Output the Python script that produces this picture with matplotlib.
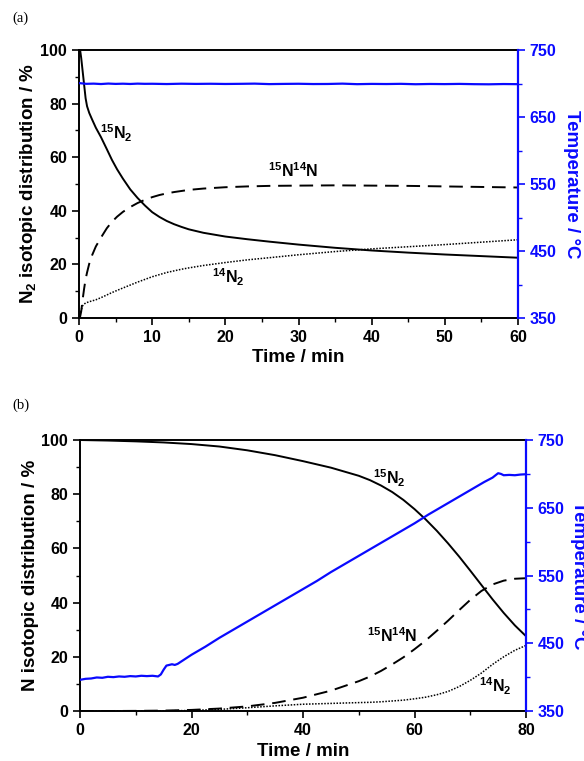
import matplotlib
matplotlib.use("Agg")
import matplotlib.pyplot as plt
from matplotlib.ticker import MultipleLocator

plt.rcParams['font.family'] = ['Liberation Sans', 'DejaVu Sans']
plt.rcParams['font.weight'] = 'bold'
plt.rcParams['mathtext.fontset'] = 'custom'
plt.rcParams['mathtext.rm'] = 'Liberation Sans:bold'
plt.rcParams['mathtext.bf'] = 'Liberation Sans:bold'
plt.rcParams['mathtext.it'] = 'Liberation Sans:bold'
plt.rcParams['mathtext.default'] = 'bf'

BLUE = '#0a0aff'

# ---- panel (a) data ----
a_t = [0, 0.15, 0.3, 0.5, 0.7, 0.9, 1.1, 1.4, 1.8, 2.3, 3.0, 3.8, 4.5, 5.2, 6, 7, 8, 9, 10,
       11, 12, 13, 14, 15, 17, 20, 23, 26, 30, 35, 40, 45, 50, 55, 60]
a_15n2 = [100, 100, 97, 92, 87, 82, 79, 76.5, 74, 71, 67.5, 63, 59, 55.5, 52, 48, 44.8, 42,
          39.5, 37.7, 36.2, 35, 34, 33.1, 31.8, 30.4, 29.4, 28.5, 27.4, 26.2, 25.2, 24.4,
          23.7, 23.1, 22.5]
a_15n14n = [0, 0.5, 2.5, 7, 11, 14.5, 17, 20.3, 23.5, 26.7, 30, 33.5, 35.9, 37.8, 39.6, 41.4,
            42.9, 44.1, 45.1, 45.9, 46.5, 47.0, 47.4, 47.8, 48.3, 48.8, 49.1, 49.3, 49.4,
            49.5, 49.4, 49.3, 49.1, 48.9, 48.7]
a_14n2 = [0, 1.2, 3.0, 4.6, 5.2, 5.6, 5.8, 6.1, 6.4, 6.8, 7.6, 8.6, 9.5, 10.3, 11.2, 12.3,
          13.4, 14.4, 15.4, 16.2, 17.0, 17.6, 18.2, 18.7, 19.6, 20.7, 21.7, 22.5, 23.6,
          24.8, 25.8, 26.6, 27.4, 28.3, 29.2]
a_temp_t = [0.1, 1, 2, 3, 4, 5, 6, 7, 8, 9, 10, 12, 14, 16, 18, 20, 22, 24, 26, 28, 30,
            32, 34, 36, 38, 40, 42, 44, 46, 48, 50, 52, 54, 56, 58, 60]
a_temp = [700.5, 699.5, 699.8, 699.2, 699.9, 699.4, 699.7, 699.3, 699.8, 699.5, 699.6, 699.2,
          699.7, 699.4, 699.6, 699.3, 699.5, 699.8, 699.1, 699.4, 699.6, 699.2, 699.3, 699.8,
          699.0, 699.4, 699.2, 699.5, 698.9, 699.3, 699.1, 699.4, 699.0, 698.8, 699.2, 699.0]

# ---- panel (b) data ----
b_t = [0, 5, 10, 15, 20, 25, 30, 35, 40, 45, 50, 52, 54, 56, 58, 60, 62, 64, 66, 68, 70,
       72, 74, 76, 78, 80]
b_15n2 = [100, 99.8, 99.5, 99.1, 98.5, 97.6, 96.2, 94.4, 92.2, 89.8, 86.8, 85.2, 83.2, 80.8,
          77.9, 74.5, 70.7, 66.5, 61.9, 57.0, 51.8, 46.5, 41.2, 36.2, 31.6, 27.6]
b_15n14n = [0, 0, 0.05, 0.15, 0.4, 0.9, 1.7, 3.0, 4.9, 7.5, 11, 12.7, 14.8, 17.2, 19.8,
            22.8, 26, 29.6, 33.3, 37.2, 41, 44.3, 46.7, 48.1, 48.8, 49]
b_14n2 = [0, 0, 0, 0.05, 0.2, 0.6, 1.2, 1.9, 2.5, 2.8, 3.1, 3.2, 3.4, 3.7, 4.0, 4.5, 5.1,
          6.0, 7.2, 9.0, 11.3, 14.0, 17.2, 20.0, 22.4, 24.2]
b_temp_t = [0, 1, 2, 3, 4, 5, 6, 7, 8, 9, 10, 11, 12, 13, 14, 14.5, 15, 15.5, 16, 16.5, 17,
            17.5, 20, 22.5, 25, 27.5, 30, 32.5, 35, 37.5, 40, 42.5, 45, 47.5, 50, 52.5, 55,
            57.5, 60, 62.5, 65, 67.5, 70, 72.5, 74, 75, 75.5, 76, 77, 78, 79, 80]
b_temp = [396, 397.5, 398, 399.5, 399, 400.5, 400, 401, 400.5, 401.5, 401, 402, 401.5, 402,
          401, 404, 411, 417, 418, 419, 418, 419.5, 433, 445, 458, 470, 482, 494, 506, 518,
          530, 542, 555, 567, 579, 591, 603, 615, 627, 640, 652, 664, 676, 688, 694.5, 701,
          700, 698, 698.5, 698, 699, 699.5]

temp_ticks = [350, 450, 550, 650, 750]


def style_axes(ax, ax2, xmax, xmajor, xminor):
    ax.set_xlim(0, xmax)
    ax.set_ylim(0, 100)
    ax.xaxis.set_major_locator(MultipleLocator(xmajor))
    ax.xaxis.set_minor_locator(MultipleLocator(xminor))
    ax.yaxis.set_major_locator(MultipleLocator(20))
    ax.yaxis.set_minor_locator(MultipleLocator(10))
    ax.tick_params(which='major', direction='out', length=5, width=1.2, labelsize=11.5)
    ax.tick_params(which='minor', direction='out', length=3, width=1.0)
    for s in ('left', 'bottom', 'top'):
        ax.spines[s].set_linewidth(1.4)
    ax.spines['right'].set_visible(False)

    ax2.set_ylim(350, 750)
    ax2.set_yticks(temp_ticks)
    ax2.yaxis.set_minor_locator(MultipleLocator(50))
    ax2.tick_params(which='major', direction='out', length=5, width=1.2,
                    labelsize=11.5, colors=BLUE)
    ax2.tick_params(which='minor', direction='out', length=3, width=1.0, colors=BLUE)
    ax2.spines['right'].set_color(BLUE)
    ax2.spines['right'].set_linewidth(1.6)
    for s in ('left', 'bottom', 'top'):
        ax2.spines[s].set_visible(False)
    for lab in ax.get_xticklabels() + ax.get_yticklabels() + ax2.get_yticklabels():
        lab.set_fontweight('bold')


fig = plt.figure(figsize=(5.84, 7.61), dpi=100)

# ---------------- (a) ----------------
ax = fig.add_axes((0.1353, 0.5821, 0.7517, 0.3522))
ax2 = ax.twinx()
ax.plot(a_t, a_15n2, color='black', lw=1.4, ls='-')
ax.plot(a_t, a_15n14n, color='black', lw=1.4, ls=(0, (7, 4)))
ax.plot(a_t, a_14n2, color='black', lw=1.1, ls=(0, (1, 1)))
ax2.plot(a_temp_t, a_temp, color=BLUE, lw=1.6)
style_axes(ax, ax2, 60, 10, 5)
ax.set_xlabel('Time / min', fontsize=13.5, fontweight='bold', va='center')
ax.xaxis.set_label_coords(0.5, -0.146)
ax.set_ylabel(r'N$_{2}$ isotopic distribution / %', fontsize=13.5,
              fontweight='bold', va='center')
ax.yaxis.set_label_coords(-0.114, 0.5)
ax2.set_ylabel('Temperature / °C', fontsize=13.5, fontweight='bold', color=BLUE,
               rotation=270, va='center')
ax2.yaxis.set_label_coords(1.122, 0.5)
ax.text(2.9, 69, r'$^{15}$N$_{2}$', fontsize=11.5, fontweight='bold',
        ha='left', va='center')
ax.text(29.2, 55, r'$^{15}$N$^{14}$N', fontsize=11.5, fontweight='bold',
        ha='center', va='center')
ax.text(20.4, 15.3, r'$^{14}$N$_{2}$', fontsize=11.5, fontweight='bold',
        ha='center', va='center')
fig.text(12 / 584, 1 - 18 / 761, '(a)', family='Liberation Serif', fontweight='normal',
         fontsize=10.5, ha='left', va='center')

# ---------------- (b) ----------------
bx = fig.add_axes((0.137, 0.0657, 0.7637, 0.3561))
bx2 = bx.twinx()
bx.plot(b_t, b_15n2, color='black', lw=1.4, ls='-')
bx.plot(b_t, b_15n14n, color='black', lw=1.4, ls=(0, (7, 4)))
bx.plot(b_t, b_14n2, color='black', lw=1.1, ls=(0, (1, 1)))
bx2.plot(b_temp_t, b_temp, color=BLUE, lw=1.6)
style_axes(bx, bx2, 80, 20, 10)
bx.set_xlabel('Time / min', fontsize=13.5, fontweight='bold', va='center')
bx.xaxis.set_label_coords(0.5, -0.151)
bx.set_ylabel('N isotopic distribution / %', fontsize=13.5, fontweight='bold', va='center')
bx.yaxis.set_label_coords(-0.112, 0.5)
bx2.set_ylabel('Temperature / °C', fontsize=13.5, fontweight='bold', color=BLUE,
               rotation=270, va='center')
bx2.yaxis.set_label_coords(1.117, 0.5)
bx.text(55.4, 86, r'$^{15}$N$_{2}$', fontsize=11.5, fontweight='bold',
        ha='center', va='center')
bx.text(56, 27.7, r'$^{15}$N$^{14}$N', fontsize=11.5, fontweight='bold',
        ha='center', va='center')
bx.text(74.4, 9, r'$^{14}$N$_{2}$', fontsize=11.5, fontweight='bold',
        ha='center', va='center')
fig.text(12 / 584, 1 - 405 / 761, '(b)', family='Liberation Serif', fontweight='normal',
         fontsize=10.5, ha='left', va='center')

fig.savefig('out.png', dpi=100)
